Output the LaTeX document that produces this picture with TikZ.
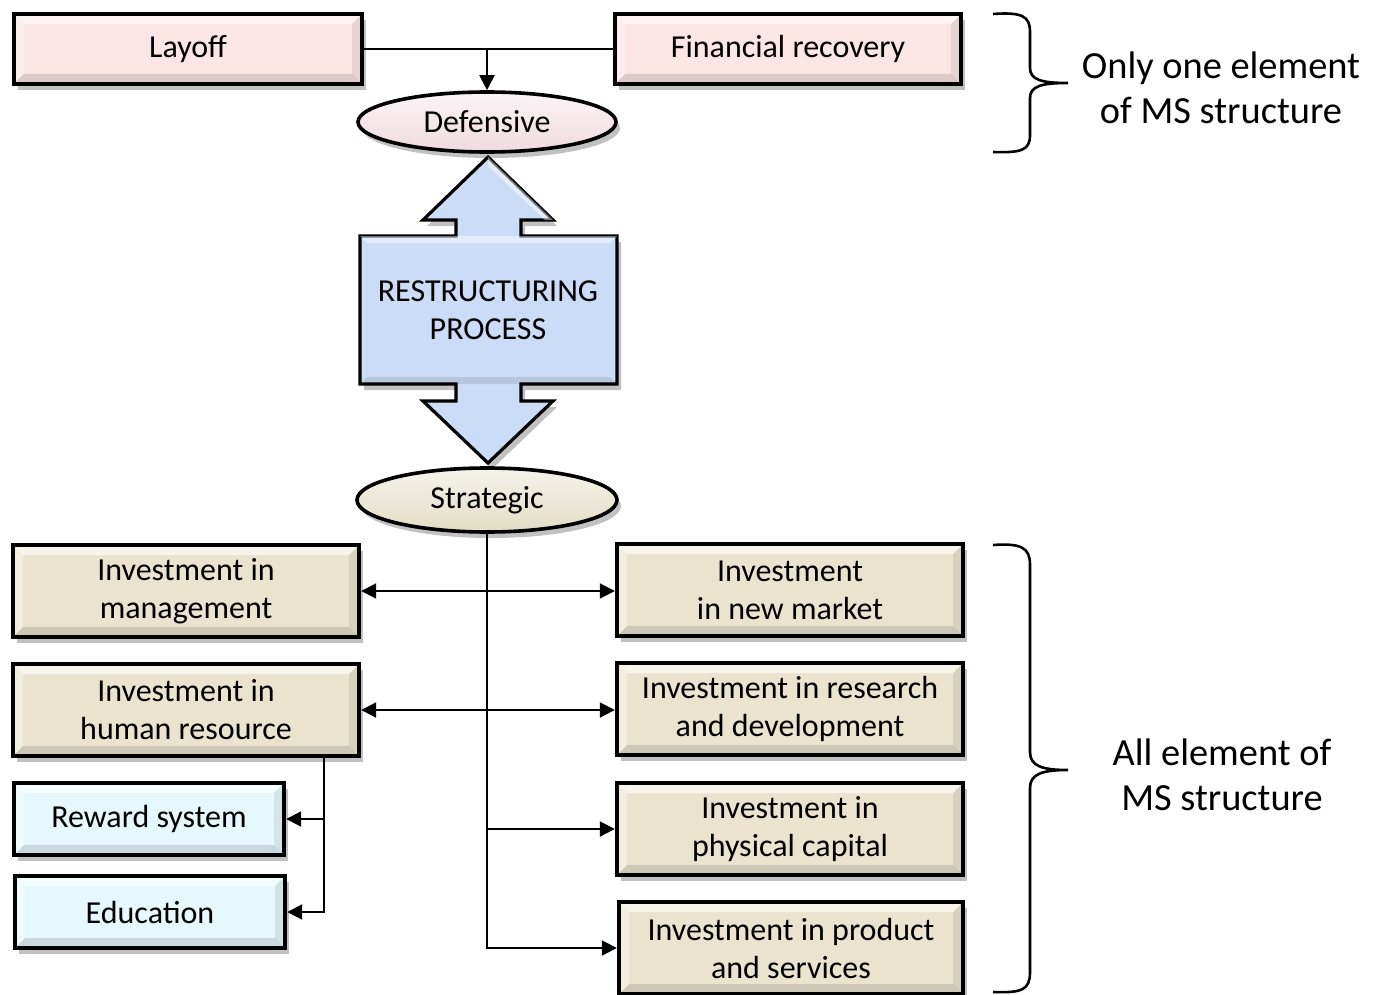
\documentclass[tikz,border=0pt]{standalone}
\usepackage{fontspec}
\setmainfont{Carlito}
\usetikzlibrary{arrows.meta,shapes.geometric,shadows,calc}
\definecolor{pinkbox}{RGB}{251,229,229}
\definecolor{tanbox}{RGB}{234,228,207}
\definecolor{cyanbox}{RGB}{229,248,253}
\definecolor{arrowblue}{RGB}{203,221,246}
\definecolor{pinkell}{RGB}{240,218,224}
\definecolor{tanell}{RGB}{226,221,196}
\tikzset{
  bevel/.style={path picture={
    \fill[white,opacity=0.6] (path picture bounding box.north west) -- (path picture bounding box.north east) -- ([shift={(-5pt,-5pt)}]path picture bounding box.north east) -- ([shift={(5pt,-5pt)}]path picture bounding box.north west) -- cycle;
    \fill[white,opacity=0.35] (path picture bounding box.north west) -- (path picture bounding box.south west) -- ([shift={(5pt,5pt)}]path picture bounding box.south west) -- ([shift={(5pt,-5pt)}]path picture bounding box.north west) -- cycle;
    \fill[black,opacity=0.12] (path picture bounding box.south west) -- (path picture bounding box.south east) -- ([shift={(-5pt,5pt)}]path picture bounding box.south east) -- ([shift={(5pt,5pt)}]path picture bounding box.south west) -- cycle;
    \fill[black,opacity=0.08] (path picture bounding box.north east) -- (path picture bounding box.south east) -- ([shift={(-5pt,5pt)}]path picture bounding box.south east) -- ([shift={(-5pt,-5pt)}]path picture bounding box.north east) -- cycle;
  }},
  shad/.style={drop shadow={shadow xshift=2pt, shadow yshift=-3pt, opacity=0.35, fill=black!70}},
  bx/.style={rectangle, draw=black, line width=2.2pt, inner sep=2pt, align=center,
    font=\fontsize{16}{19}\selectfont, shad, bevel},
  pinkb/.style={bx, fill=pinkbox},
  tanb/.style={bx, fill=tanbox},
  cyanb/.style={bx, fill=cyanbox},
  ell/.style={ellipse, draw=black, line width=1.8pt, inner sep=0pt, align=center,
    font=\fontsize{16}{19}\selectfont, shad},
  conn/.style={draw=black, line width=1pt},
  arr/.style={conn, -{Triangle[length=7.5pt,width=7.5pt]}},
  darr/.style={conn, {Triangle[length=7.5pt,width=7.5pt]}-{Triangle[length=7.5pt,width=7.5pt]}},
  side/.style={align=center, font=\fontsize{19.2}{22.5}\selectfont},
  brace/.style={draw=black, line width=1.3pt}
}
\begin{document}
\begin{tikzpicture}[x=0.5pt,y=-0.5pt]
\useasboundingbox (0,0) rectangle (1375,995);

% top boxes
\node[pinkb, minimum width=174pt, minimum height=35pt] (layoff) at (188,49) {Layoff};
\node[pinkb, minimum width=173pt, minimum height=35pt] (fin) at (788,49) {Financial recovery};

% restructuring double arrow
\draw[fill=arrowblue, line width=1.6pt, shad]
  (488,157) -- (553,220) -- (521,220) -- (521,236) -- (617,236) -- (617,384)
  -- (521,384) -- (521,401) -- (553,401) -- (488,463) -- (423,401) -- (456,401)
  -- (456,384) -- (360,384) -- (360,236) -- (456,236) -- (456,220) -- (423,220) -- cycle;
\fill[white,opacity=0.45] (488,157) -- (553,220) -- (545,220) -- (488,166) -- cycle;
\fill[white,opacity=0.45] (360,236) -- (617,236) -- (610,243) -- (367,243) -- cycle;
\fill[black,opacity=0.10] (360,384) -- (617,384) -- (610,377) -- (367,377) -- cycle;
\node[align=center, font=\fontsize{16}{19}\selectfont] (proc) at (488,310) {RESTRUCTURING\\PROCESS};

% ellipses
\node[ell, top color=pinkell!30, bottom color=pinkell, minimum width=129pt, minimum height=30pt] (def) at (487,122) {Defensive};
\node[ell, top color=tanell!35, bottom color=tanell, minimum width=130pt, minimum height=32pt] (strat) at (487,500) {Strategic};

% left boxes
\node[tanb, minimum width=173pt, minimum height=46pt] (mgmt) at (186,591) {Investment in\\management};
\node[tanb, minimum width=173pt, minimum height=46pt] (hr) at (186,710) {Investment in\\human resource};
\node[cyanb, minimum width=135pt, minimum height=36pt] (reward) at (149,819) {Reward system};
\node[cyanb, minimum width=135pt, minimum height=36pt] (edu) at (150,912) {Education};

% right boxes
\node[tanb, minimum width=173pt, minimum height=46pt] (mkt) at (790,590) {Investment\\in new market};
\node[tanb, minimum width=173pt, minimum height=46pt] (rd) at (790,709) {Investment in research\\and development};
\node[tanb, minimum width=173pt, minimum height=46pt] (phys) at (790,829) {Investment in\\physical capital};
\node[tanb, minimum width=172pt, minimum height=46pt] (prod) at (791,948) {Investment in product\\and services};

% connectors
\draw[conn] (layoff.east) -- (fin.west);
\coordinate (jn) at (def.north |- layoff.east);
\draw[arr] (jn) -- (def.north);
\draw[arr] (strat.south) |- (prod.west);
\draw[darr] (mgmt.east) -- (mgmt.east -| mkt.west);
\draw[darr] (hr.east) -- (hr.east -| rd.west);
\coordinate (pj) at (strat.south |- phys.west);
\draw[arr] (pj) -- (phys.west);
\coordinate (hrb) at ([xshift=-18.5pt]hr.south east);
\draw[arr] (hrb) |- (edu.east);
\coordinate (rj) at (hrb |- reward.east);
\draw[arr] (rj) -- (reward.east);

% braces and side texts
\draw[brace] (993,14) .. controls (1022,12) and (1030,16) .. (1030,32) -- (1030,68)
  .. controls (1030,80) and (1042,83) .. (1068,83)
  .. controls (1042,83) and (1030,86) .. (1030,98) -- (1030,135)
  .. controls (1030,150) and (1022,153) .. (993,152);
\node[side] (t1) at (1221,88) {Only one element\\of MS structure};

\draw[brace] (993,545) .. controls (1022,543) and (1030,548) .. (1030,565) -- (1030,752)
  .. controls (1030,766) and (1042,770) .. (1068,770)
  .. controls (1042,770) and (1030,774) .. (1030,788) -- (1030,972)
  .. controls (1030,990) and (1022,993) .. (993,992);
\node[side] (t2) at (1222,775) {All element of\\MS structure};
\end{tikzpicture}
\end{document}
